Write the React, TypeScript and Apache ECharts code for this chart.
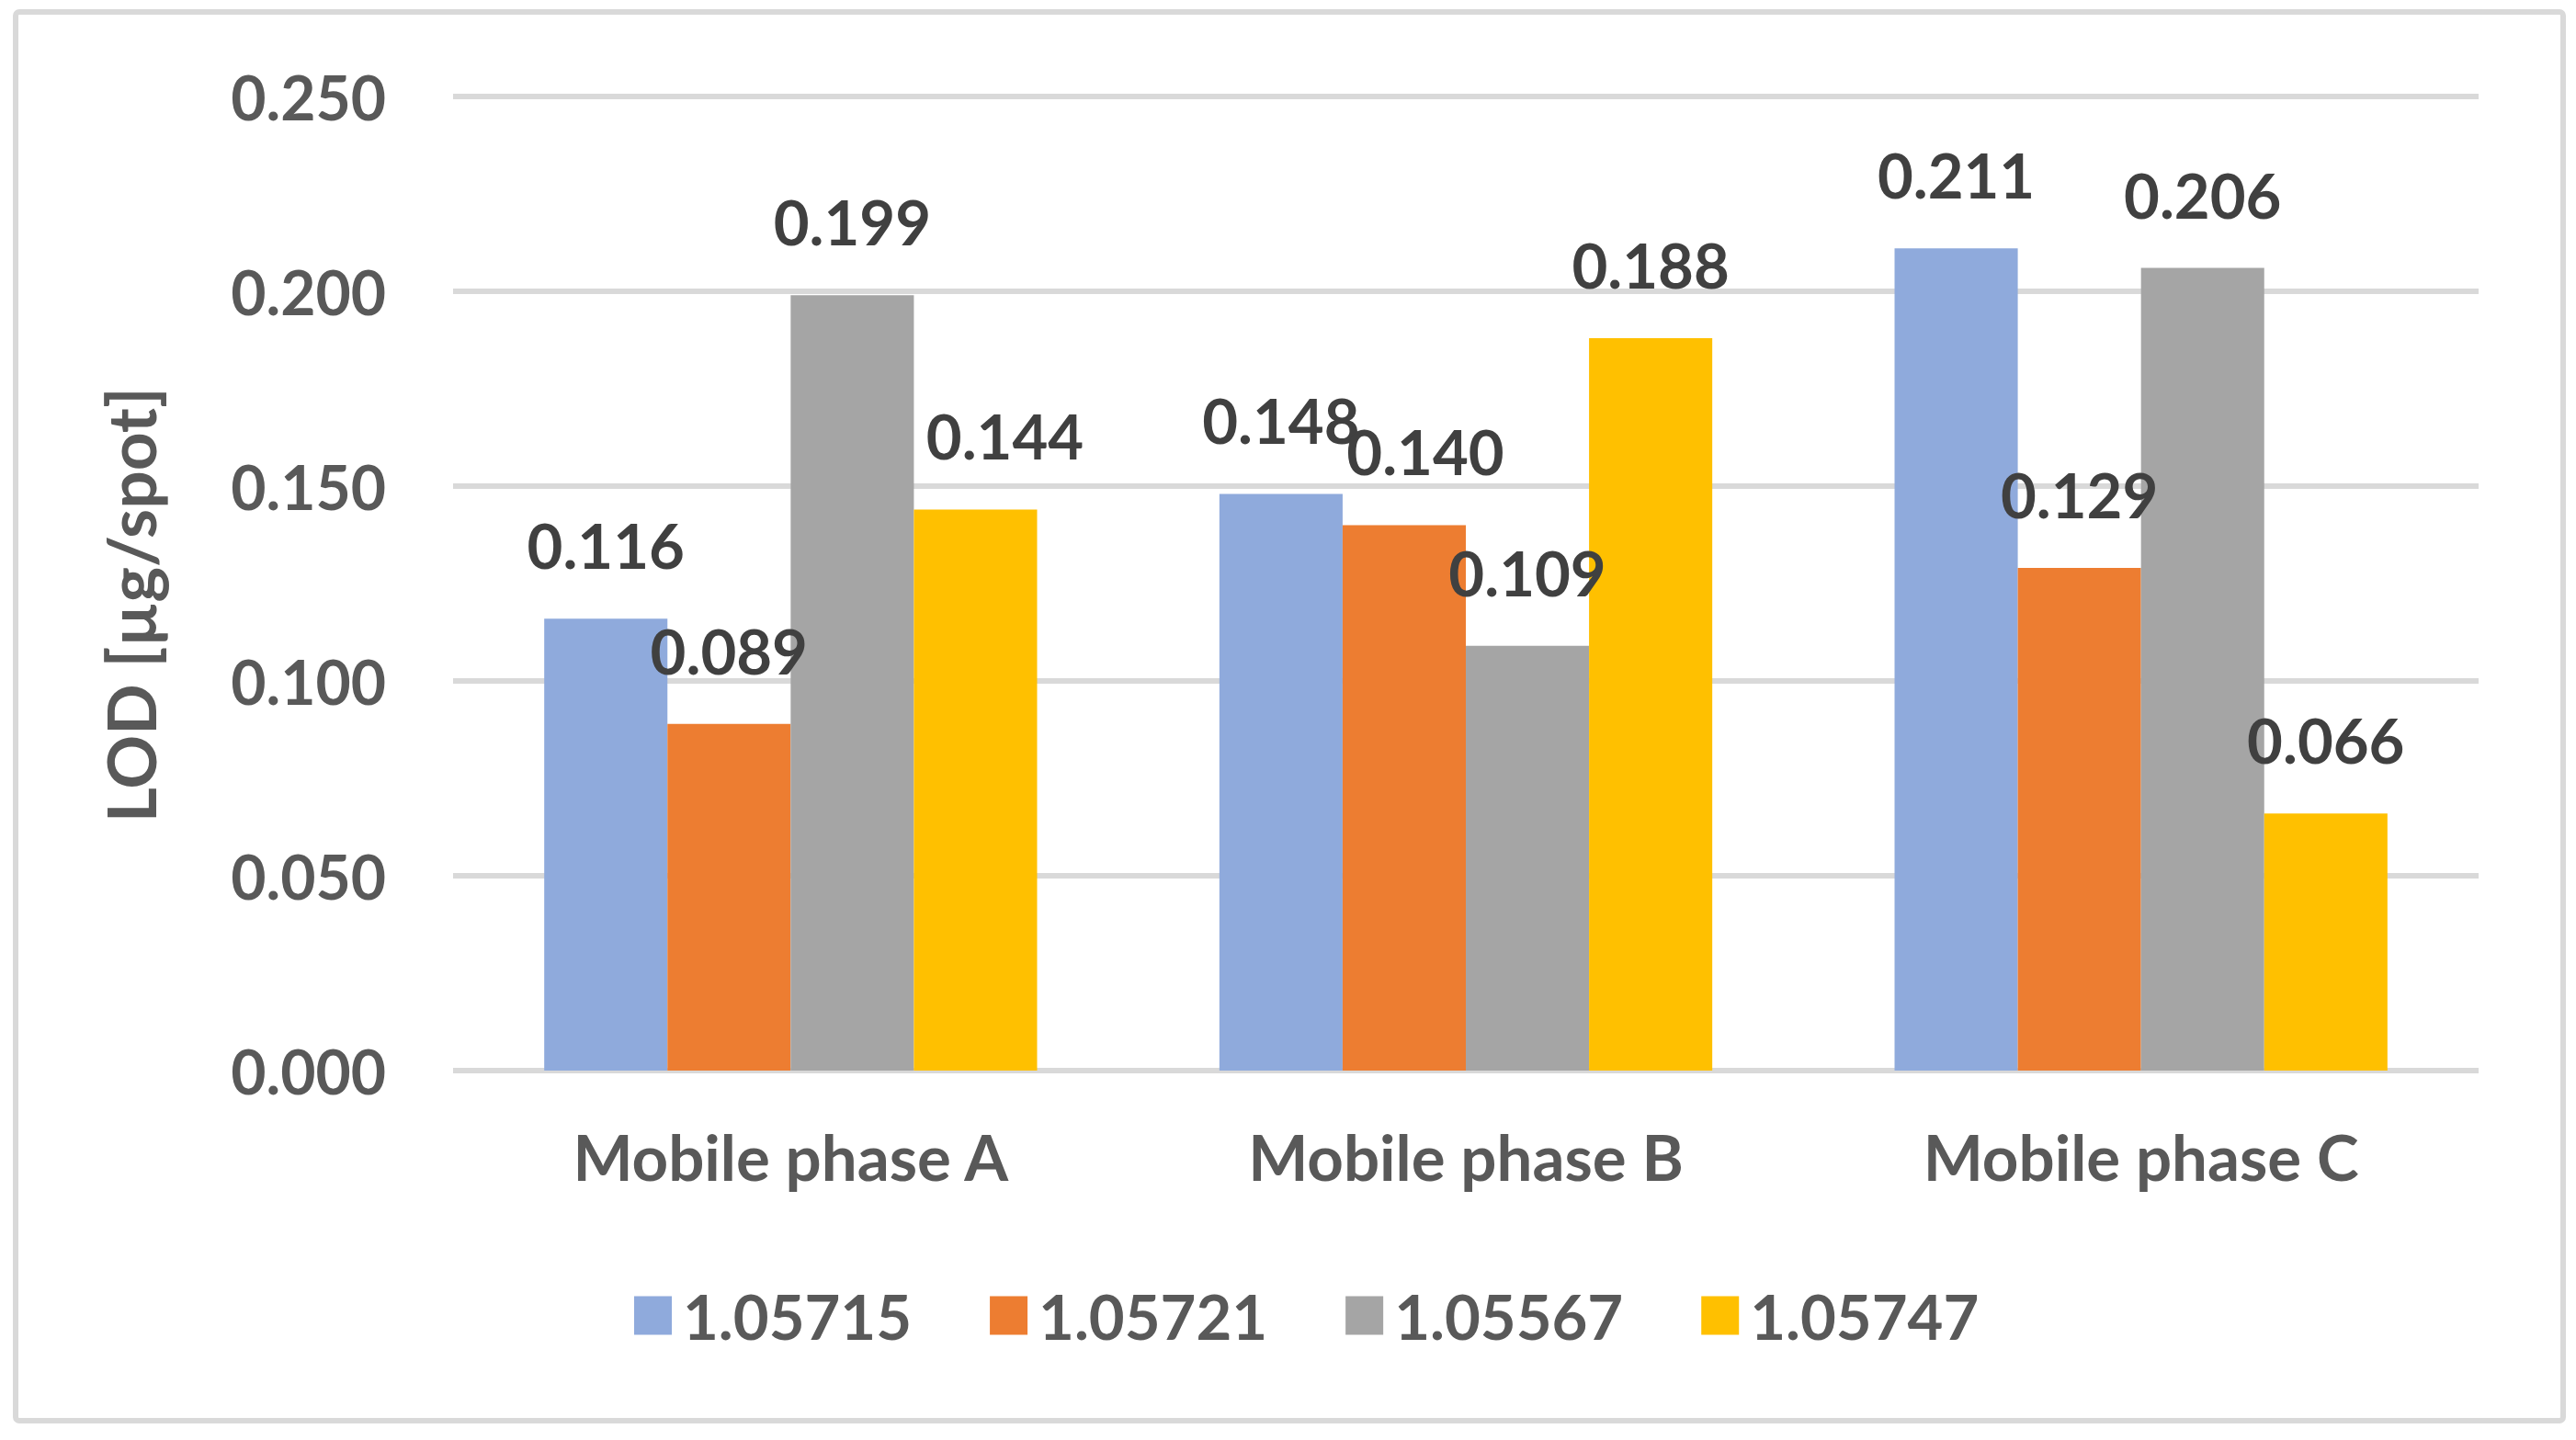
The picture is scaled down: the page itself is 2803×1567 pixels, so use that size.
import React, { useEffect, useRef } from "react";
import * as echarts from "echarts";

const categories = ["Mobile phase A", "Mobile phase B", "Mobile phase C"];
const seriesNames = ["1.05715", "1.05721", "1.05567", "1.05747"];
const values1 = [0.116, 0.148, 0.211];
const values2 = [0.089, 0.14, 0.129];
const values3 = [0.199, 0.109, 0.206];
const values4 = [0.144, 0.188, 0.066];
const seriesValues = [values1, values2, values3, values4];
const colors = ["#8faadc", "#ed7d31", "#a5a5a5", "#ffc000"];
const yMin = 0;
const yMax = 0.25;
const yInterval = 0.05;
const yAxisTitle = "LOD [µg/spot]";

// horizontal nudges of a few data labels (series index -> category index -> px), as in the reference
const labelNudges: Record<number, Record<number, number>> = {
  1: { 1: 23 },
  3: { 0: 32 },
};

const FONT = "Lato";

export default function App() {
  const ref = useRef<HTMLDivElement>(null);
  useEffect(() => {
    if (!ref.current) return;
    const chart = echarts.init(ref.current, null, { renderer: "svg" });
    chart.setOption({
      animation: false,
      backgroundColor: "#ffffff",
      grid: { left: 493, right: 106, top: 105, bottom: 402, containLabel: false },
      legend: {
        data: seriesNames,
        left: 685,
        top: 1393,
        icon: "rect",
        itemWidth: 41,
        itemHeight: 42,
        itemGap: 85,
        textStyle: {
          color: "#595959",
          fontFamily: FONT,
          fontWeight: "bold",
          fontSize: 67,
          lineHeight: 66,
          padding: [0, 0, 0, 7],
        },
      },
      xAxis: {
        type: "category",
        data: categories,
        axisLine: { show: false },
        axisTick: { show: false },
        axisLabel: {
          margin: 59,
          color: "#595959",
          fontFamily: FONT,
          fontWeight: "bold",
          fontSize: 69,
          lineHeight: 69,
        },
      },
      yAxis: {
        type: "value",
        min: yMin,
        max: yMax,
        interval: yInterval,
        axisLine: { show: false },
        axisTick: { show: false },
        splitLine: { lineStyle: { color: "#d9d9d9", width: 6 } },
        axisLabel: {
          margin: 73,
          color: "#595959",
          fontFamily: FONT,
          fontWeight: "bold",
          fontSize: 66,
          formatter: (v: number) => v.toFixed(3),
        },
      },
      series: seriesNames.map((name, i) => ({
        name,
        type: "bar",
        data: seriesValues[i].map((v, j) => {
          const dx = labelNudges[i] && labelNudges[i][j];
          return dx ? { value: v, label: { offset: [dx, 0] } } : v;
        }),
        barGap: "0%",
        barCategoryGap: "27%",
        itemStyle: { color: colors[i] },
        label: {
          show: true,
          position: "top",
          distance: 47,
          color: "#404040",
          fontFamily: FONT,
          fontWeight: "bold",
          fontSize: 67,
          lineHeight: 66,
          formatter: (p: any) => Number(p.value).toFixed(3),
        },
      })),
      graphic: [
        {
          type: "rect",
          shape: { x: 17, y: 13, width: 2772, height: 1533, r: 4 },
          style: { fill: "none", stroke: "#d9d9d9", lineWidth: 6 },
          silent: true,
        },
        {
          type: "text",
          x: 142,
          y: 658,
          rotation: Math.PI / 2,
          style: {
            text: yAxisTitle,
            fill: "#595959",
            font: `bold 73px ${FONT}`,
            align: "center",
            verticalAlign: "middle",
          },
        },
      ],
    });
    return () => chart.dispose();
  }, []);
  return (
    <div
      ref={ref}
      style={{ position: "absolute", left: 0, top: 0, width: 2803, height: 1567, background: "#fff" }}
    />
  );
}
